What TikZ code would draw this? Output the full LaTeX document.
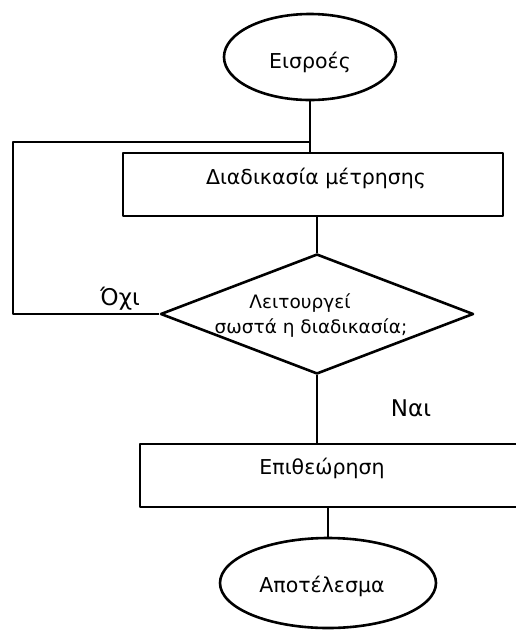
\documentclass[tikz,border=0pt]{standalone}
\usepackage{fontspec}
\setmainfont{DejaVu Sans}
\usetikzlibrary{shapes.geometric}
\begin{document}
\begin{tikzpicture}[x=1pt,y=-1pt,
  line width=2.6pt, line join=round,
  terminal/.style={draw, ellipse, inner sep=0pt},
  process/.style={draw, rectangle, inner sep=0pt, minimum height=63pt},
  decision/.style={draw, diamond, inner sep=0pt},
  boxtext/.style={inner sep=0pt, font=\fontsize{20.5}{25}\selectfont},
  answer/.style={inner sep=0pt, font=\fontsize{23}{27}\selectfont}]
\useasboundingbox (0,0) rectangle (515,630);

% shapes
\node[terminal, minimum width=172pt, minimum height=86pt] (in) at (310,57) {};
\node[process, minimum width=380pt] (meas) at (313,184.5) {};
\node[decision, minimum width=313pt, minimum height=120pt] (dec) at (317,314) {};
\node[process, minimum width=385pt] (insp) at (332.5,475.5) {};
\node[terminal, minimum width=216pt, minimum height=90pt] (out) at (328,583) {};

% texts
\node[boxtext] (tin) at (310,62) {Εισροές};
\node[boxtext] (tmeas) at (316,178) {Διαδικασία μέτρησης};
\node[boxtext, font=\fontsize{18.5}{25}\selectfont] (tdec1) at (300,303) {Λειτουργεί};
\node[boxtext, font=\fontsize{18.5}{25}\selectfont] (tdec2) at (311,328) {σωστά η διαδικασία;};
\node[boxtext] (tinsp) at (322,468) {Επιθεώρηση};
\node[boxtext] (tout) at (322,586) {Αποτέλεσμα};
\node[answer] (no) at (120,299) {Όχι};
\node[answer] (yes) at (411,408) {Ναι};

% connectors
\coordinate (join) at (in.south |- 0,142);
\coordinate (fbtop) at (13,142);
\coordinate (fbbot) at (13,314);
\draw (in.south) -- (in.south |- meas.north);
\draw (join) -- (fbtop) -- (fbbot) -- (dec.west);
\draw (dec.north |- meas.south) -- (dec.north);
\draw (dec.south) -- (dec.south |- insp.north);
\draw (out.north |- insp.south) -- (out.north);
\end{tikzpicture}
\end{document}
